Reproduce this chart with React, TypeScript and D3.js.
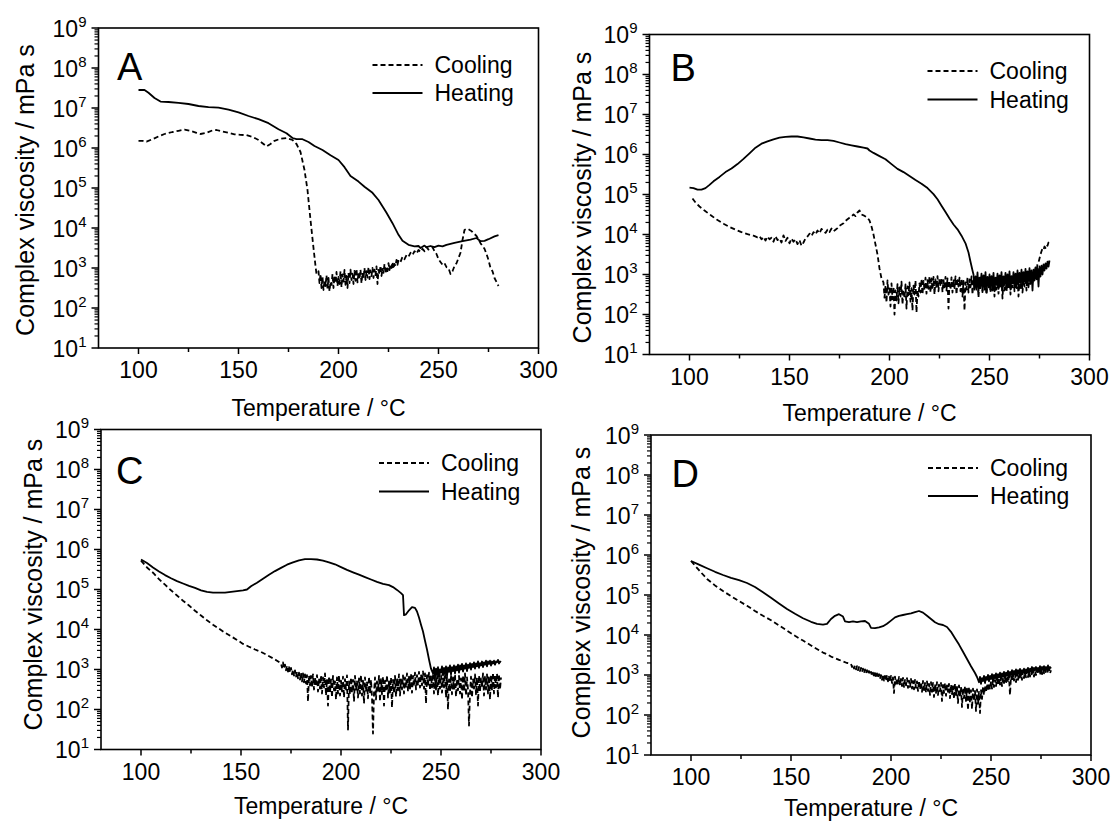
import React from "react";
import * as d3 from "d3";

type Pt = [number, number];

// ---------- axis content ----------
const xTicks = [100, 150, 200, 250, 300];
const xMinorTicks = [125, 175, 225, 275];
const yExponents = [1, 2, 3, 4, 5, 6, 7, 8, 9];
const seriesNames = ["Cooling", "Heating"];
const panelLabels = ["A", "B", "C", "D"];
const xTitle = "Temperature / °C";
const yTitle = "Complex viscosity / mPa s";

// values are log10(complex viscosity / mPa s); noisy stretches are read at a fixed temperature step
const steps = (t0: number, dt: number, vals: number[]): Pt[] => vals.map((v, i) => [t0 + i * dt, v]);

// ---------- Panel A ----------
const aHeating: Pt[] = [
  [100, 7.45], [103, 7.45], [105, 7.38], [108, 7.25], [111, 7.16], [115, 7.15], [120, 7.13], [125, 7.1],
  [130, 7.05], [135, 7.02], [140, 7.01], [145, 6.96], [150, 6.89], [155, 6.8], [160, 6.72], [165, 6.62],
  [170, 6.47], [174, 6.37], [177, 6.25], [179, 6.22], [182, 6.22], [185, 6.15], [188, 6.05], [192, 5.95],
  [196, 5.82], [200, 5.7], [203, 5.52], [206, 5.3], [210, 5.16], [213, 5.03], [217, 4.88], [220, 4.7],
  [224, 4.38], [227, 4.12], [230, 3.83], [232, 3.68], [235, 3.58], [238, 3.54], [240, 3.55], [241, 3.5],
  [243, 3.56], [244, 3.52], [246, 3.55], [248, 3.52], [250, 3.56], [252, 3.54], [254, 3.58], [258, 3.63],
  [262, 3.67], [266, 3.71], [269, 3.75], [271, 3.67], [273, 3.68], [275, 3.72], [278, 3.79], [280, 3.82],
];
const aCooling: Pt[] = [
  [100, 6.18], [102, 6.18], [104, 6.16], [107, 6.22], [110, 6.29], [113, 6.35], [117, 6.4], [120, 6.43],
  [123, 6.46], [126, 6.43], [129, 6.38], [131, 6.35], [134, 6.38], [137, 6.44], [139, 6.45], [142, 6.41],
  [145, 6.38], [148, 6.34], [151, 6.33], [154, 6.32], [157, 6.28], [160, 6.2], [162, 6.12], [164, 6.04],
  [166, 6.1], [168, 6.18], [171, 6.23], [174, 6.25], [177, 6.2], [179, 6.1], [181, 5.9], [183, 5.45],
  [184.5, 4.95], [186, 4.2], [187.5, 3.5], [188.5, 3.05], [189, 2.85],
  ...steps(190, 0.5, [
    2.92, 2.62, 2.85, 2.5, 2.78, 2.45, 2.7, 2.55, 2.82, 2.48,
    2.75, 2.42, 2.66, 2.58, 2.85, 2.5, 2.8, 2.62, 2.9, 2.55,
    2.78, 2.6, 2.92, 2.52, 2.84, 2.66, 2.95, 2.58, 2.8, 2.5,
    2.88, 2.62, 2.96, 2.7, 2.86, 2.6, 2.93, 2.68, 2.98, 2.64,
    2.9, 2.72, 2.96, 2.62, 2.88, 2.74, 3.0, 2.7, 2.92, 2.76,
    3.02, 2.72, 2.94, 2.8, 3.0, 2.75, 2.96, 2.82, 3.04, 2.6,
    2.95, 2.84, 3.06, 2.8, 2.98, 2.88, 3.1, 2.86, 3.02, 2.92,
    3.12, 2.95, 3.08, 3.0, 3.15, 2.98, 3.1, 3.05, 3.2, 3.08,
  ]),
  ...steps(230, 1, [
    3.2, 3.15, 3.28, 3.22, 3.32, 3.28, 3.38, 3.32, 3.42, 3.36, 3.45, 3.4, 3.48, 3.42, 3.52, 3.46, 3.5, 3.52,
    3.42, 3.35, 3.22, 3.15, 3.08, 3.12, 3.02, 3.0, 2.85, 2.92, 3.05, 3.12, 3.25, 3.38,
    3.7, 3.95, 3.98, 3.97, 3.94, 3.9, 3.85, 3.8, 3.72, 3.62, 3.55, 3.48, 3.35, 3.2, 3.0, 2.92, 2.75, 2.65, 2.55,
  ]),
];

// ---------- Panel B ----------
const bHeating: Pt[] = [
  [100, 5.17], [102, 5.16], [104, 5.12], [106, 5.12], [108, 5.16], [110, 5.24], [112, 5.33], [115, 5.44],
  [118, 5.56], [121, 5.65], [124, 5.76], [127, 5.89], [130, 6.03], [133, 6.17], [136, 6.27], [139, 6.33],
  [142, 6.38], [145, 6.42], [148, 6.44], [151, 6.45], [154, 6.45], [157, 6.43], [160, 6.4], [163, 6.37],
  [166, 6.36], [169, 6.36], [172, 6.34], [175, 6.3], [178, 6.26], [181, 6.23], [184, 6.2], [187, 6.17],
  [189, 6.15], [190, 6.1], [192, 6.04], [195, 5.96], [198, 5.88], [201, 5.76], [204, 5.64], [207, 5.56],
  [210, 5.46], [213, 5.36], [216, 5.27], [219, 5.16], [222, 5.01], [224, 4.88], [226, 4.72], [228, 4.56],
  [230, 4.4], [232, 4.25], [234, 4.13], [236, 3.97], [238, 3.78], [239.5, 3.55], [240.5, 3.32], [241.5, 3.1],
  ...steps(242, 0.5, [
    3.0, 2.62, 2.95, 2.7, 3.05, 2.58, 2.92, 2.75, 3.02, 2.6,
    2.98, 2.68, 3.06, 2.55, 2.94, 2.72, 3.0, 2.62, 2.96, 2.7,
    3.04, 2.58, 2.92, 2.74, 3.02, 2.64, 2.98, 2.7, 3.06, 2.6,
    2.95, 2.76, 3.04, 2.66, 3.0, 2.72, 3.08, 2.62, 2.96, 2.78,
    3.06, 2.68, 3.02, 2.74, 3.1, 2.7, 3.04, 2.8, 3.12, 2.72,
    3.06, 2.82, 3.14, 2.76, 3.08, 2.84, 3.16, 2.78, 3.1, 2.6,
    3.12, 2.85, 3.18, 2.88, 3.15, 2.7, 3.2, 2.95, 3.22, 3.0,
    3.25, 3.1, 3.28, 3.15, 3.32, 3.2, 3.35,
  ]),
];
const bCooling: Pt[] = [
  [101.5, 4.9], [103, 4.8], [105, 4.7], [108, 4.58], [111, 4.47], [114, 4.36], [117, 4.27], [120, 4.19],
  [123, 4.12], [126, 4.06], [129, 4.01], [132, 3.97],
  ...steps(134, 1, [
    3.93, 3.96, 3.88, 3.94, 3.85, 3.95, 3.88, 3.92, 3.82, 3.96,
    3.86, 3.9, 3.8, 3.98, 3.84, 3.92, 3.78, 3.9, 3.82, 3.88,
    3.76, 3.86, 3.72, 3.8, 3.9, 3.95, 4.02, 3.96, 4.06, 4.0,
    4.1, 4.03, 4.14, 4.08, 4.04, 4.12, 4.06, 4.15, 4.08, 4.12,
    4.16, 4.22, 4.25, 4.28, 4.34, 4.38, 4.42, 4.45, 4.5, 4.46,
    4.55, 4.6, 4.5, 4.48, 4.45, 4.42, 4.35, 4.2, 4.0, 3.75,
    3.5, 3.15, 2.9,
  ]),
  ...steps(197, 0.5, [
    2.8, 2.42, 2.72, 2.3, 2.85, 2.5, 2.65, 2.2, 2.78, 2.38,
    2.7, 2.0, 2.6, 2.35, 2.76, 2.28, 2.68, 2.45, 2.82, 2.25,
    2.62, 2.4, 2.75, 2.15, 2.7, 2.48, 2.8, 2.32, 2.66, 2.1,
    2.72, 2.5, 2.85, 2.05, 2.6, 2.45, 2.78, 2.55, 2.88, 2.5,
    2.84, 2.6, 2.92, 2.52, 2.86, 2.64, 2.95, 2.55, 2.9, 2.62,
    2.94, 2.5, 2.88, 2.66, 2.96, 2.58, 2.9, 2.7, 2.92, 2.56,
    2.86, 2.68, 2.94, 2.6, 2.9, 2.15, 2.84, 2.62, 2.93, 2.55,
    2.88, 2.66, 2.95, 2.5, 2.86, 2.7, 2.92, 2.58, 2.9, 2.45,
    2.84, 2.1, 2.8, 2.62, 2.92, 2.55, 2.88, 2.68, 2.95, 2.5,
    2.86, 2.64, 2.93, 2.58, 2.9, 2.42, 2.85, 2.66, 2.94, 2.56,
    2.88, 2.62, 2.92, 2.5, 2.86, 2.68, 2.95, 2.55, 2.9, 2.6,
    2.84, 2.45, 2.92, 2.62, 2.88, 2.52, 2.94, 2.66, 2.9, 2.4,
    2.86, 2.6, 2.95, 2.56, 2.9, 2.64, 2.92, 2.5, 2.88, 2.68,
    2.96, 2.58, 2.9, 2.66, 2.94, 2.45, 2.88, 2.62, 2.92, 2.55,
    2.86, 2.7, 2.95, 2.6, 2.9, 2.68, 2.98, 2.72, 3.0, 2.8,
    3.05, 2.9, 3.15, 3.1, 3.25, 3.3, 3.4, 3.5, 3.58, 3.65,
    3.62, 3.7, 3.66, 3.74, 3.72, 3.8, 3.82,
  ]),
];

// ---------- Panel C ----------
const cHeating: Pt[] = [
  [100, 5.75], [103, 5.66], [106, 5.55], [109, 5.45], [112, 5.36], [115, 5.28], [118, 5.21], [121, 5.15],
  [124, 5.09], [127, 5.04], [130, 4.98], [133, 4.94], [136, 4.92], [139, 4.92], [142, 4.92], [145, 4.94],
  [148, 4.96], [151, 4.98], [153, 5.0], [155, 5.08], [158, 5.17], [161, 5.27], [164, 5.37], [167, 5.46],
  [170, 5.54], [173, 5.62], [176, 5.68], [179, 5.73], [182, 5.76], [185, 5.76], [188, 5.75], [191, 5.72],
  [194, 5.68], [197, 5.63], [200, 5.56], [203, 5.49], [206, 5.43], [209, 5.37], [212, 5.31], [215, 5.25],
  [218, 5.19], [221, 5.14], [224, 5.11], [226, 5.06], [228, 4.99], [230, 4.91], [231, 4.86], [231.5, 4.36],
  [232.5, 4.38], [234, 4.48], [235.5, 4.56], [237, 4.54], [238, 4.45], [239, 4.3], [240, 4.12], [241, 3.95],
  [242, 3.72], [243, 3.5], [244, 3.25], [245, 3.02],
  ...steps(246, 0.5, [
    2.9, 3.05, 2.82, 3.02, 2.88, 3.06, 2.8, 3.0, 2.92, 3.08,
    2.85, 3.04, 2.9, 3.08, 2.84, 3.05, 2.94, 3.1, 2.88, 3.06,
    2.96, 3.1, 2.9, 3.08, 2.98, 3.12, 2.92, 3.1, 3.0, 3.14,
    2.95, 3.1, 3.02, 3.15, 2.96, 3.12, 3.04, 3.16, 3.0, 3.14,
    3.06, 3.18, 3.02, 3.15, 3.08, 3.2, 3.04, 3.16, 3.1, 3.2,
    3.06, 3.18, 3.12, 3.22, 3.08, 3.2, 3.14, 3.22, 3.1, 3.2,
    3.15, 3.22, 3.12, 3.2, 3.18, 3.24, 3.15, 3.2, 3.18,
  ]),
];
const cCooling: Pt[] = [
  [100, 5.72], [103, 5.55], [106, 5.42], [109, 5.26], [112, 5.12], [115, 4.98], [118, 4.85], [121, 4.72],
  [124, 4.6], [127, 4.47], [130, 4.35], [133, 4.23], [136, 4.12], [139, 4.02], [142, 3.92], [145, 3.83],
  [148, 3.74], [151, 3.64], [154, 3.57], [157, 3.5], [160, 3.44], [163, 3.36], [166, 3.28], [168, 3.22],
  ...steps(170, 0.5, [
    3.15, 3.05, 3.18, 3.02, 3.12, 2.98, 3.1, 2.95, 3.06, 2.92,
    3.04, 2.88, 3.0, 2.85, 2.98, 2.82, 2.95, 2.78, 2.92, 2.75,
    2.92, 2.7, 2.9, 2.68, 2.88, 2.65, 2.86, 2.2, 2.85, 2.6,
    2.84, 2.55, 2.88, 2.5, 2.8, 2.6, 2.86, 2.45, 2.78, 2.52,
    2.85, 2.4, 2.8, 2.55, 2.9, 2.35, 2.76, 2.1, 2.82, 2.42,
    2.75, 2.3, 2.84, 2.48, 2.7, 2.25, 2.8, 2.4, 2.86, 2.35,
    2.72, 2.45, 2.82, 2.3, 2.76, 2.5, 2.85, 1.5, 2.7, 2.38,
    2.8, 2.42, 2.74, 2.2, 2.84, 2.48, 2.7, 2.3, 2.78, 2.4,
    2.86, 2.35, 2.72, 2.15, 2.8, 2.45, 2.68, 2.28, 2.82, 2.4,
    2.74, 2.3, 1.4, 2.42, 2.8, 2.25, 2.7, 2.45, 2.84, 2.2,
    2.76, 2.38, 2.82, 2.1, 2.72, 2.45, 2.86, 2.3, 2.7, 2.42,
    2.8, 2.05, 2.74, 2.4, 2.84, 2.32, 2.78, 2.48, 2.88, 2.35,
    2.75, 2.5, 2.85, 2.4, 2.8, 2.55, 2.9, 2.45, 2.82, 2.52,
    2.9, 2.42, 2.84, 2.58, 2.92, 2.5, 2.86, 2.6, 2.94, 2.55,
    2.88, 2.6, 2.95, 2.52, 2.9, 2.15, 2.86, 2.58, 2.92, 2.48,
    2.85, 2.55, 2.9, 2.4, 2.82, 2.5, 2.88, 2.35, 2.8, 2.52,
    2.86, 2.42, 2.78, 2.55, 2.9, 2.3, 2.82, 2.0, 2.75, 2.45,
    2.86, 2.38, 2.8, 2.5, 2.88, 2.32, 2.76, 2.48, 2.84, 2.4,
    2.78, 2.25, 2.85, 2.45, 2.9, 2.35, 2.8, 2.5, 1.6, 2.42,
    2.82, 2.3, 2.75, 2.52, 2.88, 2.38, 2.8, 2.1, 2.85, 2.45,
    2.78, 2.55, 2.9, 2.35, 2.82, 2.5, 2.88, 2.4, 2.84, 2.25,
    2.86, 2.48, 2.92, 2.4, 2.85, 2.55, 2.9, 2.3, 2.88, 2.5,
    2.8,
  ]),
];

// ---------- Panel D ----------
const dHeating: Pt[] = [
  [100, 5.85], [104, 5.76], [108, 5.67], [112, 5.58], [116, 5.5], [120, 5.43], [124, 5.37], [128, 5.3],
  [132, 5.2], [136, 5.07], [140, 4.93], [144, 4.79], [148, 4.65], [152, 4.53], [156, 4.42], [160, 4.33],
  [163, 4.28], [166, 4.26], [168, 4.28], [170, 4.4], [172, 4.48], [174, 4.52], [176, 4.46], [177, 4.34],
  [179, 4.32], [181, 4.34], [183, 4.32], [185, 4.34], [187, 4.35], [189, 4.28], [190, 4.18], [192, 4.17],
  [194, 4.19], [196, 4.22], [198, 4.28], [200, 4.36], [202, 4.44], [204, 4.48], [206, 4.5], [208, 4.52],
  [210, 4.54], [212, 4.57], [214, 4.6], [216, 4.56], [218, 4.48], [220, 4.4], [222, 4.32], [224, 4.27],
  [226, 4.25], [228, 4.2], [230, 4.08], [232, 3.92], [234, 3.76], [236, 3.58], [238, 3.4], [240, 3.22],
  [242, 3.05], [243, 2.95],
  ...steps(244, 0.5, [
    2.82, 2.95, 2.78, 2.92, 2.85, 2.98, 2.8, 2.95, 2.88, 3.0,
    2.84, 2.98, 2.9, 3.02, 2.86, 3.0, 2.92, 3.04, 2.88, 3.02,
    2.94, 3.06, 2.9, 3.04, 2.96, 3.08, 2.92, 3.06, 2.98, 3.1,
    2.94, 3.08, 3.0, 3.12, 2.96, 3.1, 3.02, 3.14, 2.98, 3.12,
    3.04, 3.15, 3.0, 3.12, 3.06, 3.16, 3.02, 3.14, 3.08, 3.18,
    3.04, 3.16, 3.1, 3.2, 3.06, 3.18, 3.12, 3.2, 3.08, 3.18,
    3.12, 3.22, 3.08, 3.2, 3.14, 3.22, 3.1, 3.2, 3.15, 3.24,
    3.12, 3.2, 3.16,
  ]),
];
const dCooling: Pt[] = [
  [100, 5.85], [104, 5.62], [108, 5.4], [112, 5.24], [116, 5.1], [120, 4.97], [124, 4.85], [128, 4.73],
  [132, 4.6], [136, 4.48], [140, 4.37], [144, 4.24], [148, 4.11], [152, 3.98], [156, 3.86], [160, 3.74],
  [164, 3.62], [166, 3.56], [168, 3.52], [170, 3.46], [172, 3.42], [174, 3.38], [176, 3.34], [178, 3.3],
  ...steps(180, 0.5, [
    3.28, 3.2, 3.26, 3.16, 3.24, 3.14, 3.22, 3.12, 3.2, 3.1,
    3.18, 3.08, 3.16, 3.05, 3.14, 3.04, 3.12, 3.02, 3.1, 3.0,
    3.08, 2.98, 3.06, 2.96, 3.05, 2.94, 3.04, 2.92, 3.02, 2.9,
    3.0, 2.88, 3.02, 2.86, 2.98, 2.85, 3.0, 2.84, 2.96, 2.82,
    2.98, 2.8, 2.94, 2.55, 2.96, 2.78, 2.92, 2.76, 2.95, 2.74,
    2.9, 2.72, 2.93, 2.7, 2.88, 2.74, 2.92, 2.68, 2.86, 2.7,
    2.9, 2.66, 2.85, 2.64, 2.88, 2.68, 2.84, 2.6, 2.86, 2.64,
    2.82, 2.58, 2.85, 2.62, 2.8, 2.56, 2.84, 2.6, 2.78, 2.5,
    2.82, 2.58, 2.8, 2.45, 2.78, 2.55, 2.82, 2.5, 2.76, 2.6,
    2.8, 2.35, 2.75, 2.55, 2.8, 2.48, 2.74, 2.58, 2.78, 2.42,
    2.76, 2.52, 2.72, 2.4, 2.78, 2.5, 2.7, 2.3, 2.74, 2.45,
    2.7, 2.2, 2.68, 2.42, 2.72, 2.35, 2.66, 2.12, 2.7, 2.3,
    2.62, 2.15, 2.66, 2.35, 2.6, 2.1, 2.64, 2.28, 2.58, 2.05,
    2.62, 2.4, 2.7, 2.5, 2.74, 2.56, 2.78, 2.6, 2.8, 2.64,
    2.84, 2.66, 2.86, 2.7, 2.88, 2.72, 2.9, 2.74, 2.92, 2.76,
    2.94, 2.72, 2.92, 2.8, 2.96, 2.78, 2.98, 2.82, 2.96, 2.5,
    2.98, 2.84, 3.0, 2.86, 3.02, 2.82, 3.04, 2.88, 3.05, 2.9,
    3.06, 2.88, 3.08, 2.92, 3.06, 2.94, 3.1, 2.95, 3.08, 2.96,
    3.1, 2.98, 3.12, 2.96, 3.1, 3.0, 3.14, 3.02, 3.12, 3.0,
    3.15, 3.02, 3.14, 3.04, 3.16, 3.05, 3.15, 3.06, 3.18, 3.04,
    3.12,
  ]),
];

const coolingSeries = [aCooling, bCooling, cCooling, dCooling];
const heatingSeries = [aHeating, bHeating, cHeating, dHeating];

// ---------- layout (pixels) ----------
const frames = [
  { left: 98.5, top: 28, width: 440, height: 320, letterDx: 18.5, letterDy: 52, yTitleX: 25, yTitleShift: 2, xTitleDy: 68, legendDy: [37, 65], legendDx: -166 },
  { left: 649.5, top: 34.5, width: 440, height: 320, letterDx: 21, letterDy: 46, yTitleX: 582, yTitleShift: 3, xTitleDy: 66, legendDy: [36.5, 65], legendDx: -162 },
  { left: 101, top: 429.5, width: 440, height: 320, letterDx: 15, letterDy: 54.5, yTitleX: 33, yTitleShift: -5, xTitleDy: 64, legendDy: [33.5, 62], legendDx: -162 },
  { left: 651, top: 435, width: 440, height: 320, letterDx: 20.4, letterDy: 52, yTitleX: 581, yTitleShift: -2.5, xTitleDy: 61, legendDy: [33, 61], legendDx: -163 },
];

const FONT = "'Liberation Sans', Arial, Helvetica, sans-serif";
const DASH = "5,3";

function Panel({ idx }: { idx: number }) {
  const f = frames[idx];
  const right = f.left + f.width;
  const bottom = f.top + f.height;
  const x = d3.scaleLinear().domain([80, 300]).range([f.left, right]);
  const y = d3.scaleLog().domain([10, 1e9]).range([bottom, f.top]);
  const line = d3
    .line<Pt>()
    .x((d) => x(d[0]))
    .y((d) => y(Math.pow(10, d[1])));

  const minorY: number[] = [];
  yExponents.slice(0, -1).forEach((e) => {
    for (let k = 2; k <= 9; k++) minorY.push(k * Math.pow(10, e));
  });

  const cx = (f.left + right) / 2;
  const cy = (f.top + bottom) / 2;

  return (
    <g fontFamily={FONT} fill="#000">
      <defs>
        <clipPath id={`clip${idx}`}>
          <rect x={f.left} y={f.top} width={f.width} height={f.height} />
        </clipPath>
      </defs>
      <g clipPath={`url(#clip${idx})`} fill="none" stroke="#000" strokeLinejoin="round">
        <path d={line(heatingSeries[idx]) || ""} strokeWidth={1.8} />
        <path d={line(coolingSeries[idx]) || ""} strokeWidth={1.8} strokeDasharray={DASH} />
      </g>
      <rect x={f.left} y={f.top} width={f.width} height={f.height} fill="none" stroke="#000" strokeWidth={1.6} />
      {minorY.map((v) => (
        <line key={`m${v}`} x1={f.left} x2={f.left - 4} y1={y(v)} y2={y(v)} stroke="#000" strokeWidth={1.2} />
      ))}
      {yExponents.map((e) => (
        <g key={`y${e}`}>
          <line x1={f.left} x2={f.left - 7} y1={y(Math.pow(10, e))} y2={y(Math.pow(10, e))} stroke="#000" strokeWidth={1.5} />
          <text x={f.left - 12} y={y(Math.pow(10, e)) + 8.5} textAnchor="end" fontSize={23}>
            10<tspan dy={-10} fontSize={15}>{e}</tspan>
          </text>
        </g>
      ))}
      {xMinorTicks.map((t) => (
        <line key={`xm${t}`} x1={x(t)} x2={x(t)} y1={bottom} y2={bottom + 4} stroke="#000" strokeWidth={1.5} />
      ))}
      {xTicks.map((t) => (
        <g key={`x${t}`}>
          <line x1={x(t)} x2={x(t)} y1={bottom} y2={bottom + 6} stroke="#000" strokeWidth={1.5} />
          <text x={x(t)} y={bottom + 30} textAnchor="middle" fontSize={23}>
            {t}
          </text>
        </g>
      ))}
      <text x={cx} y={bottom + f.xTitleDy} textAnchor="middle" fontSize={23}>
        {xTitle}
      </text>
      <text
        transform={`translate(${f.yTitleX},${cy + f.yTitleShift}) rotate(-90)`}
        textAnchor="middle"
        dy="0.35em"
        fontSize={25}
      >
        {yTitle}
      </text>
      <text x={f.left + f.letterDx} y={f.top + f.letterDy} fontSize={38}>
        {panelLabels[idx]}
      </text>
      {seriesNames.map((name, i) => (
        <g key={name}>
          <line
            x1={right + f.legendDx}
            x2={right + f.legendDx + 50}
            y1={f.top + f.legendDy[i]}
            y2={f.top + f.legendDy[i]}
            stroke="#000"
            strokeWidth={1.8}
            strokeDasharray={i === 0 ? DASH : undefined}
          />
          <text x={right + f.legendDx + 62} y={f.top + f.legendDy[i] + 8} fontSize={23}>
            {name}
          </text>
        </g>
      ))}
    </g>
  );
}

export default function App() {
  return (
    <svg
      width={1114}
      height={829}
      viewBox="0 0 1114 829"
      style={{ position: "absolute", left: 0, top: 0, background: "#fff" }}
    >
      <rect width={1114} height={829} fill="#fff" />
      {frames.map((_, i) => (
        <Panel key={i} idx={i} />
      ))}
    </svg>
  );
}
